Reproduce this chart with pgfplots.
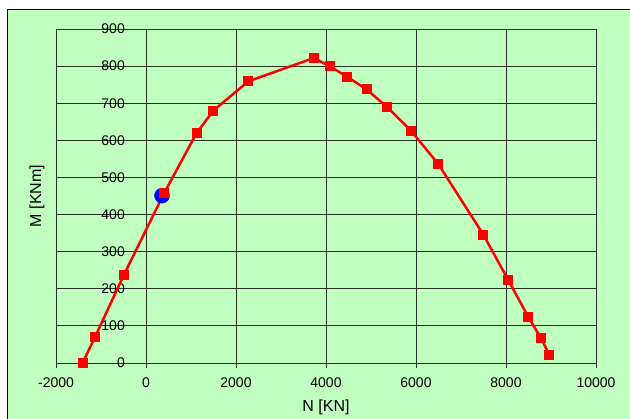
\documentclass[border=0pt]{standalone}
\usepackage{pgfplots}
\pgfplotsset{compat=1.18}
\usepackage{fontspec}
\setmainfont{Liberation Sans}
\definecolor{bggreen}{RGB}{192,255,192}
\definecolor{gridc}{RGB}{40,50,40}
\begin{document}
\begin{tikzpicture}[x=1pt,y=1pt]
\useasboundingbox (0,0) rectangle (630,419);
\fill[white] (0,0) rectangle (630,419);
\fill[bggreen] (7.5,0) rectangle (630,409);
\draw[black, line width=1pt] (7.5,0) -- (7.5,409) -- (630,409);
\begin{axis}[
  at={(56pt,56pt)}, anchor=south west,
  scale only axis, width=540pt, height=334pt,
  xmin=-2000, xmax=10000, ymin=0, ymax=900,
  xtick={-2000,0,2000,4000,6000,8000,10000},
  ytick={0,100,200,300,400,500,600,700,800,900},
  scaled x ticks=false, scaled y ticks=false,
  grid=major,
  grid style={gridc, line width=0.9pt},
  axis line style={gridc, line width=0.9pt},
  xtick pos=lower, ytick pos=left,
  tick align=outside,
  major tick length=5pt,
  xtick style={gridc, line width=0.9pt},
  ytick style={draw=none},
  /pgf/number format/1000 sep={},
  /pgf/number format/assume math mode=true,
  tick label style={font=\fontsize{14}{16}\selectfont},
  xticklabel style={anchor=north, inner sep=0pt, yshift=-10pt},
  yticklabel style={anchor=east, inner sep=0pt, xshift=74pt},
  xlabel={N [KN]}, ylabel={M [KNm]},
  label style={font=\fontsize{16}{18}\selectfont},
  xlabel style={at={(axis description cs:0.5,0)}, anchor=center, yshift=-44pt},
  ylabel style={at={(axis description cs:0,0.5)}, anchor=center, yshift=19pt},
]
\addplot[only marks, mark=*, mark size=7.5pt, color=blue] coordinates {(356,451)};
\addplot[color=red, line width=2.5pt, mark=square*, mark size=4.5pt, mark options={solid, line width=0pt}] coordinates {
(-1410,0) (-1133,70) (-489,238) (400,457) (1126,620) (1496,680) (2274,759)
(3733,822) (4089,799) (4474,771) (4904,737) (5363,689) (5889,626) (6496,536)
(7496,346) (8052,223) (8496,124) (8778,67) (8963,22)
};
\end{axis}
\end{tikzpicture}
\end{document}
